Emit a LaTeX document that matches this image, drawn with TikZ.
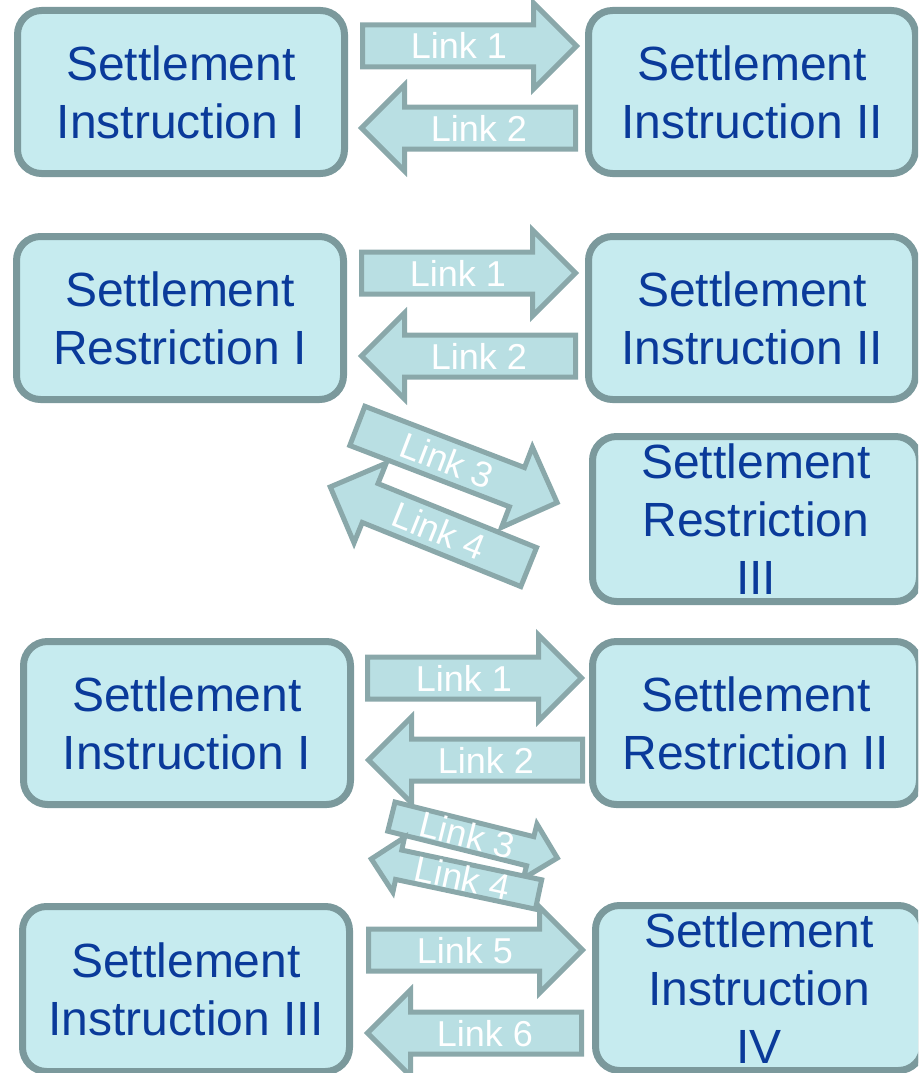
\documentclass[tikz,border=0pt]{standalone}
\usepackage{fontspec}
\setmainfont{Liberation Sans}
\usetikzlibrary{shapes.arrows,shadows,positioning}
\definecolor{boxfill}{HTML}{C6EBEF}
\definecolor{boxedge}{HTML}{7B999C}
\definecolor{boxdark}{HTML}{56716F}
\definecolor{boxtext}{HTML}{0A3A9A}
\definecolor{linkfill}{HTML}{B9DFE3}
\definecolor{linkedge}{HTML}{8AA8AA}
\newcommand{\boxfont}{\fontsize{48}{58}\selectfont}
\newcommand{\linkfont}{\fontsize{36}{40}\selectfont}
\tikzset{
  settle/.style={rectangle,rounded corners=24pt,draw=boxedge,line width=7pt,
    fill=boxfill,text=boxtext,font=\boxfont,align=center,inner sep=0pt,
    minimum width=327pt,minimum height=163pt,
    drop shadow={shadow xshift=0pt,shadow yshift=-3pt,fill=boxdark,opacity=1}},
  link/.style={single arrow,draw=linkedge,fill=linkfill,line width=5pt,
    text=white,font=\linkfont,inner xsep=4pt,inner ysep=0pt,
    text height=31.5pt,text depth=5.5pt,single arrow head extend=22pt,
    minimum height=214pt,anchor=tail},
  back/.style={shape border rotate=180},
  small link/.style={text height=25pt,text depth=0pt,
    single arrow head extend=13pt,minimum height=171pt}
}
\begin{document}
\begin{tikzpicture}[x=1pt,y=-1pt]
  \path[use as bounding box,clip] (0,0) rectangle (918,1073);
  % first pair
  \node[settle] (si1) at (181,92) {Settlement\\Instruction I};
  \node[settle] (si2) at (752,92) {Settlement\\Instruction II};
  \node[link] (l1) at (360,46) {Link 1};
  \node[link,back] (l2) at (578,128) {Link 2};
  % restriction with two partners
  \node[settle] (sr1) at (180,318) {Settlement\\Restriction I};
  \node[settle] (si2b) at (752,318) {Settlement\\Instruction II};
  \node[settle,minimum height=165pt] (sr3) at (756,519) {Settlement\\Restriction\\III};
  \node[link] (r1) at (359,273) {Link 1};
  \node[link,back] (r2) at (578,356) {Link 2};
  \node[link,rotate=-21] (r3) at (355,425) {Link 3};
  \node[link,back,rotate=-22] (r4) at (531,568) {Link 4};
  % four instructions
  \node[settle] (si1b) at (187,723) {Settlement\\Instruction I};
  \node[settle] (sr2) at (756,723) {Settlement\\Restriction II};
  \node[settle,minimum height=165pt] (si3) at (186,989) {Settlement\\Instruction III};
  \node[settle,minimum height=165pt] (si4) at (759,988) {Settlement\\Instruction\\IV};
  \node[link] (m1) at (365,678) {Link 1};
  \node[link,back] (m2) at (585,760) {Link 2};
  \node[link,small link,rotate=-14] (m3) at (389,816) {Link 3};
  \node[link,small link,back,rotate=-12] (m4) at (541,895) {Link 4};
  \node[link] (m5) at (366,950) {Link 5};
  \node[link,back] (m6) at (584,1033) {Link 6};
\end{tikzpicture}
\end{document}
